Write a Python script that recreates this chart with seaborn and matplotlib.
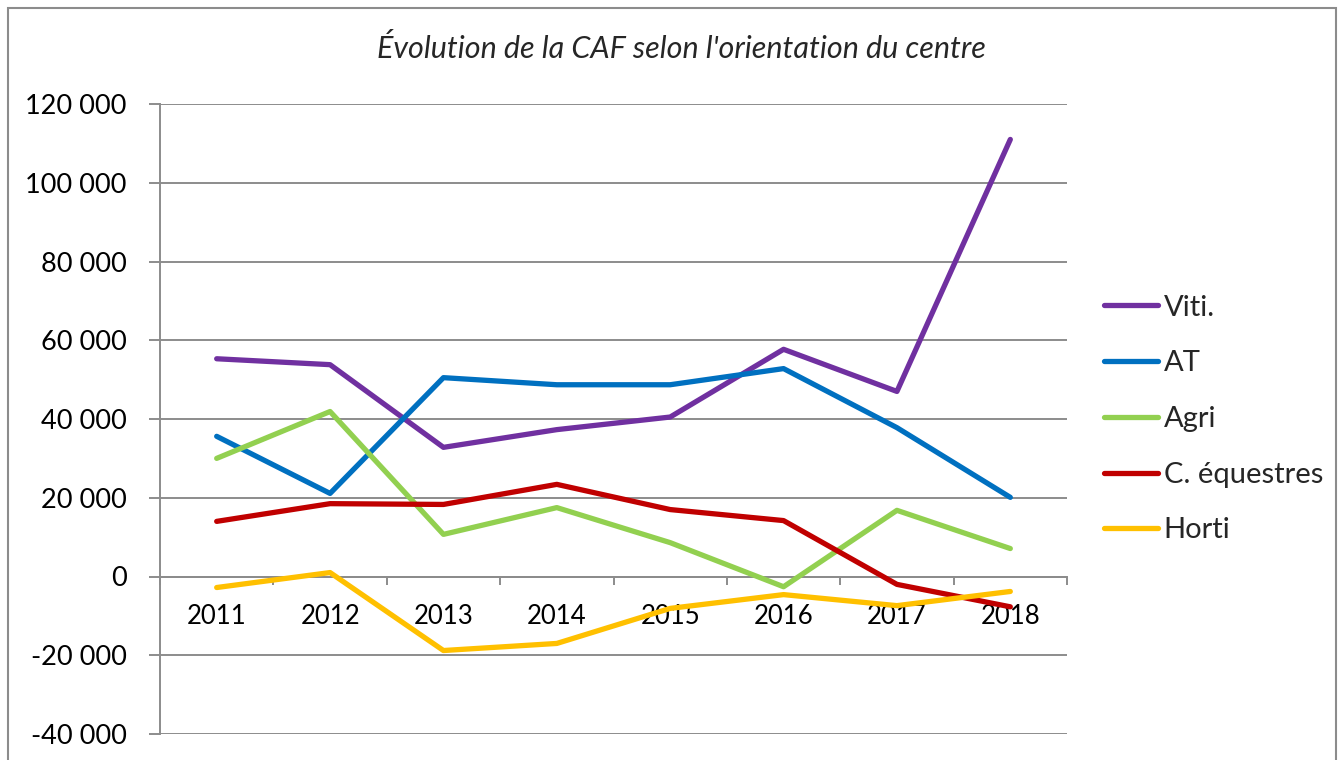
import matplotlib
matplotlib.use("Agg")
import matplotlib.pyplot as plt
import seaborn as sns
import pandas as pd
import numpy as np
from matplotlib.patches import Rectangle
from matplotlib.ticker import FuncFormatter, FixedLocator

years = ["2011", "2012", "2013", "2014", "2015", "2016", "2017", "2018"]
viti = [55300, 53800, 32800, 37300, 40500, 57700, 47000, 111000]
at = [35600, 21100, 50500, 48700, 48700, 52800, 37800, 20100]
agri = [30000, 41900, 10700, 17500, 8600, -2600, 16800, 7100]
equestres = [14000, 18500, 18300, 23400, 17000, 14200, -2000, -7700]
horti = [-2800, 1000, -18800, -17000, -8100, -4600, -7400, -3800]
series_names = ["Viti.", "AT", "Agri", "C. équestres", "Horti"]
colors = ["#7030A0", "#0070C0", "#92D050", "#C00000", "#FFC000"]

sns.set_theme(style="white")
plt.rcParams["font.family"] = ["Lato", "DejaVu Sans"]

rows = []
for name, vals in zip(series_names, [viti, at, agri, equestres, horti]):
    for i, (y, v) in enumerate(zip(years, vals)):
        rows.append({"idx": i, "year": y, "value": v, "series": name})
df = pd.DataFrame(rows)

fig = plt.figure(figsize=(13.41, 7.60), dpi=100)
ax = fig.add_axes([160 / 1341, 1 - 734 / 760, (1067 - 160) / 1341, (734 - 104) / 760])

sns.lineplot(data=df, x="idx", y="value", hue="series", hue_order=series_names,
             palette=colors, linewidth=3.8, ax=ax, legend=True, sort=False)
for ln in ax.get_lines():
    ln.set_solid_capstyle("round")
    ln.set_solid_joinstyle("round")

ax.set_xlim(-0.5, 7.5)
ax.set_ylim(-40000, 120000)
ax.set_yticks(np.arange(-40000, 120001, 20000))
ax.yaxis.set_major_formatter(FuncFormatter(lambda v, p: f"{int(v):,}".replace(",", " ")))
ax.grid(axis="y", color="#8c8c8c", linewidth=1.4)
ax.set_axisbelow(True)
for s in ["top", "right"]:
    ax.spines[s].set_visible(False)
ax.spines["left"].set_color("#8c8c8c")
ax.spines["left"].set_linewidth(1.4)
ax.spines["bottom"].set_position(("data", 0))
ax.spines["bottom"].set_color("#8c8c8c")
ax.spines["bottom"].set_linewidth(1.4)
ax.spines["bottom"].set_zorder(0.5)

ax.set_xticks(range(len(years)))
ax.set_xticklabels(years)
ax.xaxis.set_minor_locator(FixedLocator(np.arange(-0.5, 7.6, 1.0)))
ax.tick_params(axis="x", which="major", length=0, pad=20, labelsize=18.5, colors="black")
ax.tick_params(axis="x", which="minor", length=6, width=1.4, color="#8c8c8c", direction="out", bottom=True)
ax.tick_params(axis="y", which="major", length=8, width=1.4, color="#8c8c8c", direction="out",
               left=True, pad=16, labelsize=19.5, labelcolor="black")
ax.set_xlabel("")
ax.set_ylabel("")

handles, labels = ax.get_legend_handles_labels()
leg = ax.legend(handles, labels, loc="center left", bbox_to_anchor=(1104 / 1341, 1 - 419 / 760),
                bbox_transform=fig.transFigure, frameon=False, fontsize=21,
                handlelength=1.85, handletextpad=0.2, labelspacing=1.02, borderaxespad=0,
                borderpad=0)
for lh in leg.get_lines():
    lh.set_linewidth(3.8)
    lh.set_solid_capstyle("round")

fig.text(681 / 1341, 1 - 48 / 760, "Évolution de la CAF selon l'orientation du centre",
         ha="center", va="center", fontsize=22, style="italic")

fig.patches.append(Rectangle((8 / 1341, -0.05), (1336 - 8) / 1341, 1.05 - 8 / 760,
                             transform=fig.transFigure, fill=False, edgecolor="#8c8c8c",
                             linewidth=1.5))

fig.savefig("out.png", dpi=100)
